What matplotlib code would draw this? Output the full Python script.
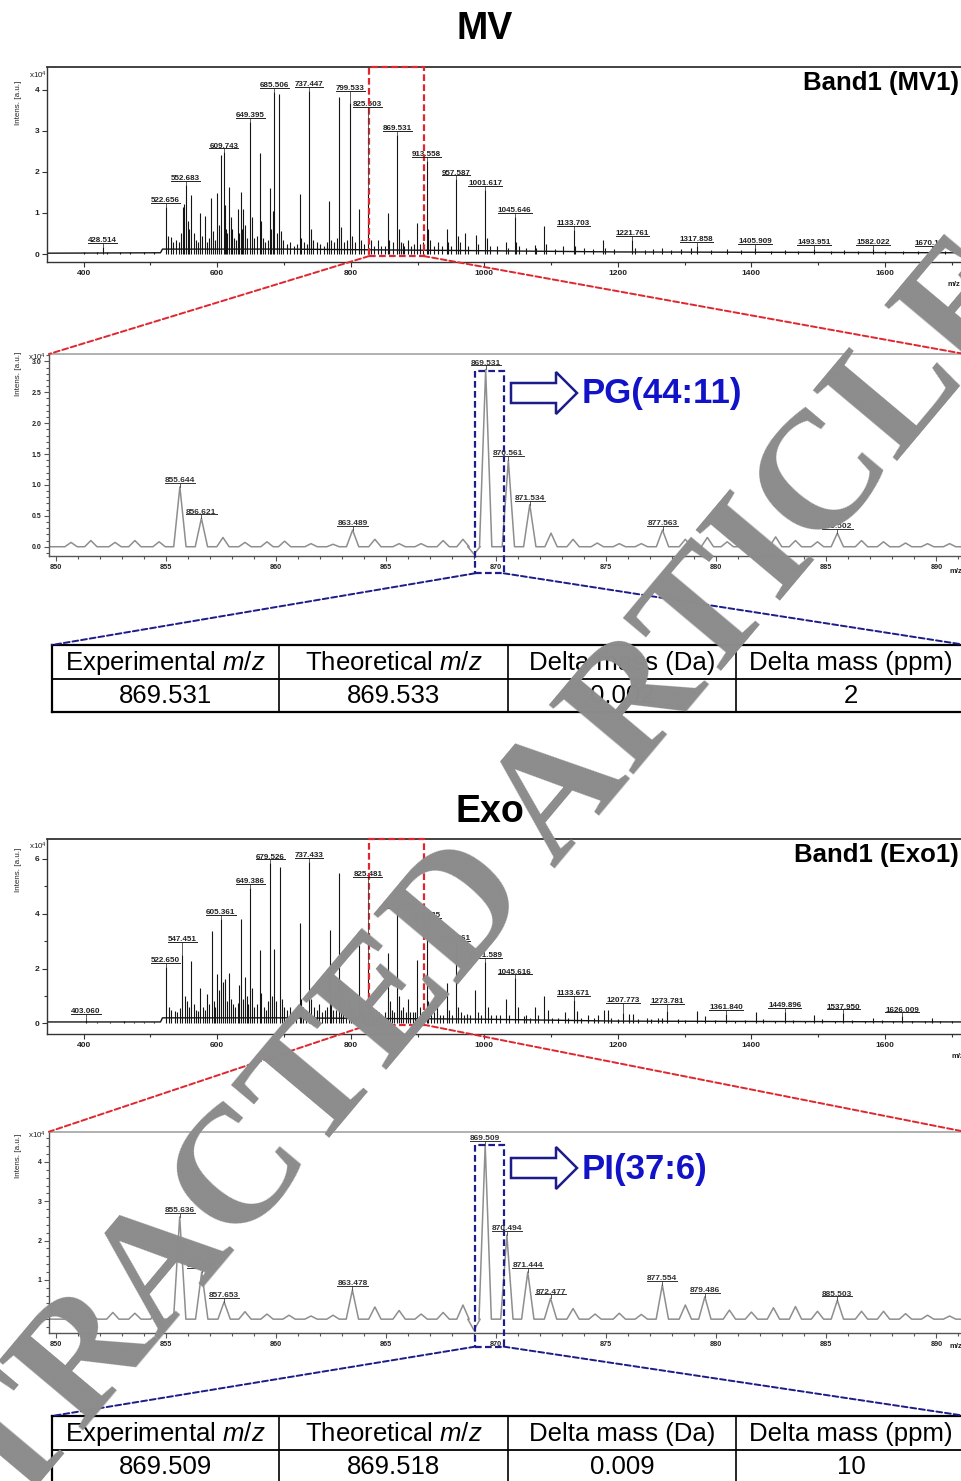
import numpy as np
import matplotlib
matplotlib.use('Agg')
import matplotlib.pyplot as plt
from matplotlib.patches import Rectangle, Polygon, ConnectionPatch
from matplotlib.lines import Line2D
from matplotlib.ticker import MultipleLocator, FormatStrFormatter

plt.rcParams['font.family'] = ['Liberation Sans', 'DejaVu Sans']
plt.rcParams['mathtext.fontset'] = 'custom'
plt.rcParams['mathtext.rm'] = 'Liberation Sans'
plt.rcParams['mathtext.it'] = 'Liberation Sans:italic'
plt.rcParams['mathtext.bf'] = 'Liberation Sans:bold'

# ---------------- data (intensities in x10^4 a.u.) ----------------
# MV full spectrum, labelled peaks
mv_lab_mz = [428.514, 522.656, 552.683, 609.743, 649.395, 685.506, 737.447,
             799.533, 825.503, 869.531, 913.558, 957.587, 1001.617, 1045.646,
             1133.703, 1221.761, 1317.858, 1405.909, 1493.951, 1582.022, 1670.100]
mv_lab_int = [0.18, 1.15, 1.68, 2.48, 3.22, 3.95, 3.98,
              3.67, 1.56, 2.9, 2.28, 1.82, 1.56, 0.91,
              0.58, 0.34, 0.2, 0.15, 0.12, 0.12, 0.1]
# MV full spectrum, other peaks
mv_mz = [401, 420, 435, 455, 470, 490, 505,
         526, 531, 534, 538, 542, 545, 548, 550.5, 556, 558, 561, 565, 568, 571,
         574, 577, 582, 585, 588, 591, 594, 597, 600, 603, 605.7, 611, 613, 615,
         617.7, 620, 622, 625, 628, 631, 633, 635, 637, 639, 641, 645, 652, 655,
         659, 663.7, 666, 669, 672, 676, 678.6, 681, 684, 689, 692.5, 696, 699,
         704, 709, 715, 719, 723.6, 726, 730, 734, 740, 744, 750, 754, 760, 764,
         767.5, 770, 775, 779, 782, 785, 790, 795, 802, 806, 812, 815, 820, 830,
         835, 841, 846, 852, 855.6, 858, 863, 872, 875, 877.5, 880, 885, 890,
         895, 899.4, 903, 908, 915, 918, 925, 930, 937, 943.4, 946, 950, 960,
         963, 971, 975, 987, 990, 1004, 1008, 1019, 1032, 1035, 1048, 1052,
         1062, 1075.6, 1078, 1089.6, 1092, 1106, 1118, 1136, 1150, 1163, 1178,
         1181, 1195, 1225, 1240, 1252, 1266, 1280, 1295, 1310, 1340, 1363,
         1385, 1430, 1451, 1470, 1520, 1539, 1560, 1600, 1627, 1650, 1690]
mv_int = [0.06, 0.05, 0.06, 0.05, 0.06, 0.05, 0.05,
          0.45, 0.42, 0.3, 0.35, 0.3, 0.5, 1.15, 1.23, 0.8, 0.6, 1.44, 0.5, 0.35, 0.3,
          1.0, 0.45, 0.92, 0.3, 0.4, 1.37, 0.55, 0.35, 1.48, 0.7, 2.41, 1.2, 0.6, 0.5,
          1.63, 0.9, 0.6, 0.4, 0.35, 1.1, 0.5, 1.5, 0.6, 1.1, 0.7, 0.4, 0.9, 0.4,
          0.45, 2.47, 0.8, 0.4, 0.3, 0.35, 1.6, 0.6, 1.05, 0.5, 3.9, 0.55, 0.35,
          0.25, 0.3, 0.2, 0.25, 1.47, 0.4, 0.3, 0.25, 0.6, 0.35, 0.3, 0.25, 0.2, 0.3,
          1.3, 0.35, 0.3, 0.4, 3.84, 0.65, 0.3, 0.35, 0.45, 0.3, 1.1, 0.35, 0.25, 0.35,
          0.2, 0.35, 0.2, 0.2, 1.0, 0.35, 0.3, 0.6, 0.3, 0.27, 0.2, 0.35, 0.2,
          0.25, 0.75, 0.25, 0.3, 0.6, 0.35, 0.2, 0.3, 0.2, 0.6, 0.3, 0.2, 0.45,
          0.3, 0.5, 0.2, 0.46, 0.25, 0.4, 0.2, 0.2, 0.3, 0.15, 0.3, 0.2,
          0.15, 0.22, 0.15, 0.69, 0.25, 0.12, 0.2, 0.2, 0.15, 0.12, 0.34,
          0.15, 0.12, 0.15, 0.1, 0.12, 0.15, 0.1, 0.12, 0.15, 0.1, 0.12,
          0.1, 0.08, 0.1, 0.08, 0.08, 0.1, 0.07, 0.08, 0.08, 0.07, 0.07]
mv_base_mz = [345, 515, 518, 700, 1000, 1200, 1720]
mv_base_lvl = [0.02, 0.03, 0.12, 0.12, 0.08, 0.05, 0.03]

# Exo full spectrum, labelled peaks
exo_lab_mz = [403.060, 522.650, 547.451, 605.361, 649.386, 679.526, 737.433,
              825.481, 869.509, 913.535, 957.561, 1001.589, 1045.616, 1133.671,
              1207.773, 1273.781, 1361.840, 1449.896, 1537.950, 1626.009]
exo_lab_int = [0.12, 2.07, 2.5, 3.8, 4.95, 5.84, 5.9,
               2.2, 4.07, 3.7, 2.86, 2.24, 1.64, 0.85,
               0.36, 0.46, 0.35, 0.42, 0.36, 0.25]
exo_mz = [420, 440, 460, 475, 490, 505,
          527, 531, 536, 540, 544, 551, 554, 557, 561, 565, 568, 571, 574, 578,
          581, 585, 588, 591.8, 595, 597, 600, 603, 608, 611, 614, 617.8, 620,
          623, 627, 631, 633, 636.2, 639, 641, 644, 646, 652, 655, 659, 663.7,
          666, 670, 673, 676, 682, 685.5, 688, 693.6, 697, 700, 705, 709, 714,
          718, 723.6, 726, 729, 733, 741, 745, 749, 753, 757, 762, 765, 768.5,
          771, 774, 778, 782.5, 785, 789, 793, 797, 800, 804, 808, 812.5, 815,
          818, 822, 830, 834, 838, 842, 846, 852, 856, 859, 862, 865, 872, 875,
          878, 882, 885, 889, 893, 896, 899.5, 903, 907, 916, 920, 925, 929,
          933, 938, 943.4, 947, 951, 961, 965, 970, 974, 979, 985.8, 990, 995,
          1005, 1010, 1018, 1024, 1032, 1037, 1051, 1059, 1063, 1069, 1075.6,
          1080, 1089.6, 1096, 1101, 1110, 1120.4, 1125, 1139, 1145, 1155, 1165,
          1170, 1179, 1185, 1190, 1200, 1217, 1222, 1230, 1244, 1250, 1260,
          1266, 1290, 1300, 1319, 1330, 1345, 1375, 1390, 1407, 1418, 1435,
          1462, 1480, 1494, 1506, 1525, 1550, 1570, 1582.5, 1595, 1612, 1640,
          1660, 1671, 1683, 1700]
exo_int = [0.05, 0.06, 0.07, 0.06, 0.06, 0.05,
           0.6, 0.5, 0.45, 0.4, 0.55, 1.0, 0.8, 0.6, 2.28, 0.7, 0.5, 0.45, 1.29, 0.6,
           0.5, 1.08, 0.7, 3.38, 0.8, 0.6, 1.8, 1.2, 1.5, 1.6, 0.8, 1.85, 0.9,
           0.7, 0.6, 0.75, 1.4, 3.8, 0.9, 1.7, 1.0, 0.7, 1.3, 0.6, 0.7, 2.67,
           1.1, 0.6, 0.5, 0.8, 1.0, 2.7, 0.8, 5.72, 0.9, 0.6, 0.5, 0.6, 0.4,
           0.5, 3.65, 0.9, 0.6, 0.5, 0.9, 0.6, 0.5, 0.7, 0.4, 0.5, 0.6, 3.4,
           0.7, 0.5, 0.5, 5.5, 1.0, 0.5, 0.5, 0.8, 0.6, 0.5, 0.4, 2.86, 0.6,
           0.5, 0.4, 0.5, 0.4, 0.5, 0.4, 0.35, 0.4, 2.57, 0.8, 0.5, 0.4, 1.0, 0.5,
           0.6, 0.4, 0.9, 0.4, 0.4, 0.4, 2.3, 0.6, 0.4, 0.8, 0.5, 0.4, 0.7,
           0.3, 0.3, 1.47, 0.5, 0.3, 0.6, 0.4, 0.3, 0.35, 0.3, 1.2, 0.4, 0.3,
           0.6, 0.3, 0.3, 0.3, 0.88, 0.3, 0.6, 0.25, 0.3, 0.2, 0.6,
           0.3, 0.98, 0.5, 0.2, 0.2, 0.4, 0.2, 0.45, 0.2, 0.3, 0.2,
           0.3, 0.48, 0.48, 0.2, 0.15, 0.35, 0.35, 0.15, 0.2, 0.15, 0.2,
           0.2, 0.15, 0.12, 0.46, 0.25, 0.12, 0.1, 0.12, 0.42, 0.15, 0.1,
           0.12, 0.1, 0.32, 0.15, 0.1, 0.12, 0.08, 0.2, 0.12, 0.08, 0.1,
           0.08, 0.2, 0.1, 0.07]
exo_base_mz = [345, 515, 518, 700, 1000, 1200, 1720]
exo_base_lvl = [0.05, 0.05, 0.2, 0.2, 0.15, 0.08, 0.05]

# MV zoom 850-890
mvz_lab_mz = [855.644, 856.621, 863.489, 869.531, 870.561, 871.534, 877.563, 885.502]
mvz_lab_int = [0.97, 0.46, 0.27, 2.87, 1.4, 0.68, 0.27, 0.22]
mvz_mz = [850.7, 851.6, 852.7, 853.6, 854.7, 857.6, 858.6, 859.6, 860.4, 861.6,
          862.6, 864.5, 865.6, 866.6, 867.6, 868.5, 869.0, 872.5, 873.5, 874.6,
          875.6, 876.6, 878.6, 879.6, 880.5, 881.6, 882.7, 883.6, 884.6, 886.6,
          887.6, 888.6, 889.6, 890.6]
mvz_int = [0.07, 0.1, 0.07, 0.1, 0.08, 0.15, 0.07, 0.08, 0.09, 0.05,
           0.04, 0.12, 0.05, 0.05, 0.1, 0.12, -0.12, 0.22, 0.12, 0.06,
           0.05, 0.05, 0.12, 0.15, 0.08, 0.06, 0.16, 0.1, 0.08, 0.1,
           0.08, 0.06, 0.05, 0.05]

# Exo zoom 850-890
exz_lab_mz = [855.636, 856.636, 857.653, 863.478, 869.509, 870.494, 871.444,
              872.477, 877.554, 879.486, 885.503]
exz_lab_int = [2.6, 1.2, 0.44, 0.74, 4.43, 2.14, 1.2, 0.53, 0.87, 0.57, 0.48]
exz_mz = [850.7, 851.6, 852.6, 853.6, 854.6, 858.6, 859.6, 860.6, 861.6, 862.6,
          864.5, 865.6, 866.6, 867.6, 868.5, 869.0, 873.5, 874.5, 875.6, 876.6,
          878.6, 880.6, 881.6, 882.6, 883.6, 884.6, 886.6, 887.6, 888.6, 889.6,
          890.6]
exz_int = [0.17, 0.15, 0.17, 0.15, 0.23, 0.19, 0.13, 0.1, 0.08, 0.1,
           0.31, 0.22, 0.13, 0.17, 0.36, -0.28, 0.27, 0.13, 0.15, 0.12,
           0.36, 0.23, 0.18, 0.29, 0.32, 0.2, 0.2, 0.2, 0.14, 0.1,
           0.08]

table_header = ['Experimental $m/z$', 'Theoretical $m/z$', 'Delta mass (Da)', 'Delta mass (ppm)']
mv_table_row = ['869.531', '869.533', '0.002', '2']
exo_table_row = ['869.509', '869.518', '0.009', '10']

mv_lipid = 'PG(44:11)'
exo_lipid = 'PI(37:6)'

# ---------------- layout helpers (pixels of the 961x1481 picture) ----------------
W, H = 961, 1481
RED = '#e0262e'
NAVY = '#1c1c8a'
BLUE = '#1212c8'

fig = plt.figure(figsize=(W / 100, H / 100), dpi=100)


def P(x, y):
    return (x / W, 1 - y / H)


def add_axes_px(left, top, right, bottom):
    return fig.add_axes([left / W, 1 - bottom / H, (right - left) / W, (bottom - top) / H])


under = []


def label_peaks(ax, mz, inten, raised, size, color):
    for m, h in zip(mz, inten):
        name = '%.3f' % m
        lvl = raised.get(name, h)
        t = ax.annotate(name, (m, lvl), xytext=(0, 2.0), textcoords='offset points',
                        ha='center', va='bottom', fontsize=size, fontweight='bold',
                        color=color, annotation_clip=False, zorder=5)
        under.append((ax, t, m, h, color))


def style_axes(ax, spine_col, top_col, tick_size):
    ax.spines['right'].set_visible(False)
    for s in ['left', 'bottom']:
        ax.spines[s].set_color(spine_col)
        ax.spines[s].set_linewidth(1.0)
    ax.spines['top'].set_color(top_col)
    ax.spines['top'].set_linewidth(1.3)
    ax.tick_params(which='both', direction='out', colors=spine_col, width=0.8,
                   labelsize=tick_size, labelcolor='#222222', pad=2)
    ax.tick_params(which='major', length=3.5)
    ax.tick_params(which='minor', length=2)
    for lab in ax.get_xticklabels() + ax.get_yticklabels():
        lab.set_fontweight('bold')


def overview(ax, lab_mz, lab_int, mz, inten, base_mz, base_lvl, ylim, yticks, raised):
    ax.vlines(mz, 0, inten, color='#151515', lw=0.8)
    ax.vlines(lab_mz, 0, lab_int, color='#151515', lw=0.8)
    ax.plot(base_mz, base_lvl, color='#151515', lw=1.0)
    ax.set_xlim(345, 1720)
    ax.set_ylim(*ylim)
    ax.set_xticks([400, 600, 800, 1000, 1200, 1400, 1600])
    ax.xaxis.set_minor_locator(MultipleLocator(100))
    ax.set_yticks(yticks)
    style_axes(ax, '#333333', '#333333', 6)
    label_peaks(ax, lab_mz, lab_int, raised, 5.8, '#222222')
    # red dashed zoom window
    ax.add_patch(Rectangle((827.5, -0.05 * ylim[1] / 4.5), 909 - 827.5,
                           ylim[1] + 0.05 * ylim[1] / 4.5, fill=False, ec=RED,
                           lw=1.6, ls=(0, (3, 1.5)), clip_on=False, zorder=6))


def profile(lab_mz, lab_int, mz, inten, lo, hi, w):
    pk = sorted(zip(list(lab_mz) + list(mz), list(lab_int) + list(inten)))
    xs, ys = [lo], [0.0]
    for m, h in pk:
        xs += [m - w, m, m + w]
        ys += [0.0, h, 0.0]
    xs.append(hi)
    ys.append(0.0)
    return xs, ys


def zoom(ax, lab_mz, lab_int, mz, inten, ylim, major, minor, fmt, box_y):
    xs, ys = profile(lab_mz, lab_int, mz, inten, 849.7, 891.5, 0.28)
    ax.plot(xs, ys, color='#8e8e8e', lw=1.1)
    ax.set_xlim(849.7, 891.3)
    ax.set_ylim(*ylim)
    ax.xaxis.set_major_locator(MultipleLocator(5))
    ax.xaxis.set_minor_locator(MultipleLocator(1))
    ax.yaxis.set_major_locator(MultipleLocator(major))
    ax.yaxis.set_minor_locator(MultipleLocator(minor))
    ax.yaxis.set_major_formatter(FormatStrFormatter(fmt))
    style_axes(ax, '#555555', '#aaaaaa', 5)
    for lab in ax.get_xticklabels():
        lab.set_fontsize(5.2)
    label_peaks(ax, lab_mz, lab_int, {}, 6.0, '#333333')
    ax.add_patch(Rectangle((869.05, box_y[0]), 1.3, box_y[1] - box_y[0], fill=False,
                           ec=NAVY, lw=1.6, ls=(0, (3, 1.5)), clip_on=False, zorder=6))


def connect(axA, xyA, xyB, transB, color):
    cp = ConnectionPatch(xyA=xyA, coordsA=axA.transData, xyB=xyB, coordsB=transB,
                         color=color, lw=1.4, ls=(0, (3, 1.5)), zorder=6)
    fig.add_artist(cp)


def table(top, row):
    cols = [52, 279, 508, 736, 966]
    rh = 33.5
    tf = fig.transFigure
    for y, lw in [(top, 1.6), (top + rh, 1.3), (top + 2 * rh, 1.6)]:
        fig.add_artist(Line2D([cols[0] / W, 1.01], [1 - y / H] * 2, color='black', lw=lw, transform=tf))
    for i, x in enumerate(cols):
        fig.add_artist(Line2D([x / W] * 2, [1 - top / H, 1 - (top + 2 * rh) / H], color='black',
                              lw=1.6 if i == 0 else 1.2, transform=tf))
    for i in range(4):
        cx = (cols[i] + cols[i + 1]) / 2
        fig.text(cx / W, 1 - (top + rh / 2 + 1) / H, table_header[i], ha='center', va='center', fontsize=18.5)
        fig.text(cx / W, 1 - (top + 1.5 * rh + 1) / H, row[i], ha='center', va='center', fontsize=18.5)


def hollow_arrow(x0, yc):
    pts = [(x0, yc - 10), (x0 + 45, yc - 10), (x0 + 45, yc - 21), (x0 + 66, yc),
           (x0 + 45, yc + 21), (x0 + 45, yc + 10), (x0, yc + 10)]
    fig.add_artist(Polygon([P(x, y) for x, y in pts], closed=True, fc='white', ec=NAVY,
                           lw=1.8, transform=fig.transFigure, zorder=7))


def side_text(ylab_y, x10_xy, mz_xy):
    fig.text(*P(19, ylab_y), 'Intens. [a.u.]', rotation=90, ha='center', va='center',
             fontsize=5.8, color='#222222')
    fig.text(*P(*x10_xy), r'x10$^4$', ha='center', va='center', fontsize=5.8, color='#222222')
    fig.text(*P(*mz_xy), 'm/z', ha='left', va='center', fontsize=5.5, color='#222222',
             fontweight='bold')


TF = fig.transFigure

# ---------------- MV ----------------
fig.text(*P(485, 29), 'MV', ha='center', va='center', fontsize=27, fontweight='bold')
ax1 = add_axes_px(47, 67, 965, 262)
overview(ax1, mv_lab_mz, mv_lab_int, mv_mz, mv_int, mv_base_mz, mv_base_lvl,
         (-0.195, 4.56), [0, 1, 2, 3, 4], {'825.503': 3.49, '799.533': 3.88})
ax1.text(0.993, 0.92, 'Band1 (MV1)', transform=ax1.transAxes, ha='right', va='center',
         fontsize=18.5, fontweight='bold')
side_text(103, (38, 75), (948, 284))

ax2 = add_axes_px(49, 354, 965, 556)
zoom(ax2, mvz_lab_mz, mvz_lab_int, mvz_mz, mvz_int, (-0.15, 3.12), 0.5, 0.1, '%.1f', (-0.43, 2.84))
side_text(374, (37, 357), (950, 571))
hollow_arrow(511, 393)
fig.text(*P(582, 394), mv_lipid, ha='left', va='center', fontsize=25, fontweight='bold', color=BLUE)

connect(ax1, (827.5, -0.05), (0, 1), ax2.transAxes, RED)
connect(ax1, (909, -0.05), (0.9996, 1), ax2.transAxes, RED)
table(645, mv_table_row)
connect(ax2, (869.05, -0.43), P(52, 645), TF, NAVY)
connect(ax2, (870.35, -0.43), P(966, 645), TF, NAVY)

# ---------------- Exo ----------------
fig.text(*P(490, 812), 'Exo', ha='center', va='center', fontsize=27, fontweight='bold')
ax3 = add_axes_px(47, 839, 965, 1034)
overview(ax3, exo_lab_mz, exo_lab_int, exo_mz, exo_int, exo_base_mz, exo_base_lvl,
         (-0.39, 6.73), [0, 2, 4, 6], {'403.060': 0.2, '547.451': 2.83, '825.481': 5.2,
                                       '1207.773': 0.6, '1273.781': 0.55})
ax3.yaxis.set_minor_locator(MultipleLocator(1))
ax3.text(0.993, 0.92, 'Band1 (Exo1)', transform=ax3.transAxes, ha='right', va='center',
         fontsize=18.5, fontweight='bold')
side_text(870, (38, 846), (951, 1056))

ax4 = add_axes_px(49, 1131.7, 965, 1333.3)
zoom(ax4, exz_lab_mz, exz_lab_int, exz_mz, exz_int, (-0.36, 4.77), 1, 0.2, '%d', (-0.7, 4.43))
side_text(1156, (37, 1135), (950, 1347))
hollow_arrow(511, 1168)
fig.text(*P(582, 1169), exo_lipid, ha='left', va='center', fontsize=25, fontweight='bold', color=BLUE)

connect(ax3, (827.5, -0.05), (0, 1), ax4.transAxes, RED)
connect(ax3, (909, -0.05), (0.9996, 1), ax4.transAxes, RED)
table(1416, exo_table_row)
connect(ax4, (869.05, -0.7), P(52, 1416), TF, NAVY)
connect(ax4, (870.35, -0.7), P(966, 1416), TF, NAVY)

# ---------------- underlines of peak labels ----------------
fig.canvas.draw()
rend = fig.canvas.get_renderer()
inv = fig.transFigure.inverted()
for ax, t, m, h, col in under:
    bb = t.get_window_extent(rend)
    yu = bb.y0 + 1.2
    a = inv.transform([(bb.x0, yu), (bb.x1, yu)])
    fig.add_artist(Line2D(a[:, 0], a[:, 1], color=col, lw=0.7, transform=fig.transFigure, zorder=5))
    px, py = ax.transData.transform((m, h))
    if yu > py:
        b = inv.transform([(px, py), (px, yu)])
        fig.add_artist(Line2D(b[:, 0], b[:, 1], color='#444444', lw=0.6, transform=fig.transFigure, zorder=4))

# ---------------- watermark ----------------
fig.text(*P(420, 968), 'RETRACTED ARTICLE', rotation=50, rotation_mode='anchor',
         ha='center', va='center', fontsize=120, family='Liberation Serif',
         fontweight='bold', color='#8c8c8c', zorder=50)

fig.savefig('out.png', dpi=100)
